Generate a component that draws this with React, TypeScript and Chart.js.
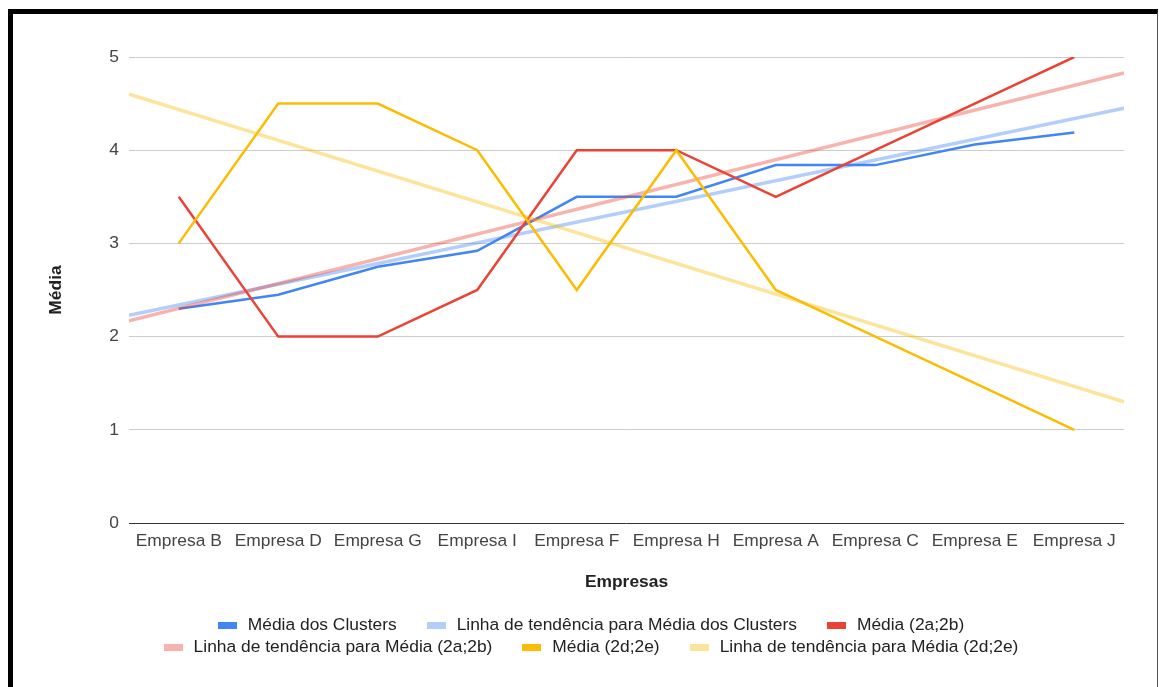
import React, { useEffect, useRef } from "react";
import { Chart, registerables } from "chart.js";

Chart.register(...registerables);

const FONT = "'Liberation Sans', Arial, sans-serif";
const FS = 17.4;

const categories = [
  "Empresa B", "Empresa D", "Empresa G", "Empresa I", "Empresa F",
  "Empresa H", "Empresa A", "Empresa C", "Empresa E", "Empresa J",
];
const mediaClusters = [2.3, 2.45, 2.75, 2.92, 3.5, 3.5, 3.84, 3.84, 4.06, 4.19];
const media2a2b = [3.5, 2, 2, 2.5, 4, 4, 3.5, 4, 4.5, 5];
const media2d2e = [3, 4.5, 4.5, 4, 2.5, 4, 2.5, 2, 1.5, 1];
// trend line values read at the left and right edges of the plot
const trendEdges = [-0.5, 9.5];
const trendClusters = [2.23, 4.45];
const trend2a2b = [2.17, 4.83];
const trend2d2e = [4.6, 1.3];
const yTicks = [0, 1, 2, 3, 4, 5];

const BLUE = "#4285F4";
const RED = "#EA4335";
const YELLOW = "#FBBC04";
const BLUE_T = "rgba(66,133,244,0.4)";
const RED_T = "rgba(234,67,53,0.4)";
const YELLOW_T = "rgba(251,188,4,0.4)";

const W = 1144;
const H = 673;

const legendPlugin = {
  id: "rowLegend",
  afterDraw(chart: any) {
    const ctx = chart.ctx;
    ctx.save();
    ctx.font = `${FS}px ${FONT}`;
    const BOX_W = 19, BOX_H = 7, GAP = 11, ITEM_GAP = 30, MAX_W = 980;
    const CX = 578, Y0 = 611, ROW_H = 22;
    const items = chart.data.datasets.map((ds: any) => ({
      text: ds.label,
      color: ds.borderColor,
      w: BOX_W + GAP + ctx.measureText(ds.label).width,
    }));
    const rows: any[] = [];
    let cur: any[] = [];
    let curW = 0;
    for (const it of items) {
      const add = (cur.length ? ITEM_GAP : 0) + it.w;
      if (cur.length && curW + add > MAX_W) {
        rows.push({ items: cur, w: curW });
        cur = [it];
        curW = it.w;
      } else {
        cur.push(it);
        curW += add;
      }
    }
    rows.push({ items: cur, w: curW });
    ctx.textBaseline = "middle";
    ctx.textAlign = "left";
    rows.forEach((row, r) => {
      let x = CX - row.w / 2;
      const y = Y0 + r * ROW_H;
      row.items.forEach((it: any) => {
        ctx.fillStyle = it.color;
        ctx.fillRect(Math.round(x), Math.round(y - BOX_H / 2), BOX_W, BOX_H);
        ctx.fillStyle = "#222";
        ctx.fillText(it.text, x + BOX_W + GAP, y);
        x += it.w + ITEM_GAP;
      });
    });
    ctx.restore();
  },
};

export default function App() {
  const ref = useRef<HTMLCanvasElement>(null);

  useEffect(() => {
    if (!ref.current) return;
    const pts = (arr: number[]) => arr.map((v, i) => ({ x: i, y: v }));
    const trend = (arr: number[]) => arr.map((v, i) => ({ x: trendEdges[i], y: v }));
    const main = { borderWidth: 2.5, pointRadius: 0, fill: false, tension: 0 };
    const tr = { borderWidth: 3.5, pointRadius: 0, fill: false, tension: 0 };

    const chart = new Chart(ref.current, {
      type: "line",
      data: {
        datasets: [
          { label: "Média dos Clusters", data: pts(mediaClusters), borderColor: BLUE, backgroundColor: BLUE, order: 6, ...main },
          { label: "Linha de tendência para Média dos Clusters", data: trend(trendClusters), borderColor: BLUE_T, backgroundColor: BLUE_T, order: 5, ...tr },
          { label: "Média (2a;2b)", data: pts(media2a2b), borderColor: RED, backgroundColor: RED, order: 4, ...main },
          { label: "Linha de tendência para Média (2a;2b)", data: trend(trend2a2b), borderColor: RED_T, backgroundColor: RED_T, order: 3, ...tr },
          { label: "Média (2d;2e)", data: pts(media2d2e), borderColor: YELLOW, backgroundColor: YELLOW, order: 2, ...main },
          { label: "Linha de tendência para Média (2d;2e)", data: trend(trend2d2e), borderColor: YELLOW_T, backgroundColor: YELLOW_T, order: 1, ...tr },
        ],
      },
      options: {
        responsive: false,
        animation: false,
        devicePixelRatio: 1,
        layout: { padding: { top: 43, right: 33, bottom: 84, left: 0 } },
        plugins: {
          legend: { display: false },
          tooltip: { enabled: false },
        },
        scales: {
          x: {
            type: "linear",
            min: -0.5,
            max: 9.5,
            afterBuildTicks: (s: any) => {
              s.ticks = categories.map((_, i) => ({ value: i }));
            },
            afterFit: (s: any) => {
              s.height = 80;
            },
            grid: { display: false, drawTicks: false },
            border: { display: false },
            ticks: {
              autoSkip: false,
              maxRotation: 0,
              padding: 8,
              color: "#444",
              font: { family: FONT, size: FS },
              callback: (v: any) => categories[v as number] ?? "",
            },
            title: {
              display: true,
              text: "Empresas",
              color: "#222",
              font: { family: FONT, size: FS, weight: "bold" },
              padding: { top: 0, bottom: 10 },
            },
          },
          y: {
            min: 0,
            max: 5,
            afterBuildTicks: (s: any) => {
              s.ticks = yTicks.map((v) => ({ value: v }));
            },
            afterFit: (s: any) => {
              s.width = 116;
            },
            grid: {
              drawTicks: false,
              color: (c: any) => (c.tick && c.tick.value === 0 ? "#333" : "#cccccc"),
              lineWidth: 1,
            },
            border: { display: false },
            ticks: {
              padding: 10,
              color: "#444",
              font: { family: FONT, size: FS },
            },
            title: {
              display: true,
              text: "Média",
              color: "#222",
              font: { family: FONT, size: FS, weight: "bold" },
              padding: { top: 33, bottom: 0 },
            },
          },
        },
      },
      plugins: [legendPlugin],
    } as any);

    return () => chart.destroy();
  }, []);

  return (
    <div
      style={{
        position: "fixed",
        left: 0,
        top: 0,
        width: 1159,
        height: 687,
        overflow: "hidden",
        background: "#fff",
      }}
    >
      <div
        style={{
          position: "absolute",
          left: 8,
          top: 9,
          width: 1144,
          height: 700,
          borderLeft: "5px solid #000",
          borderTop: "5px solid #000",
          borderRight: "1px solid #555",
          background: "#fff",
        }}
      >
        <canvas ref={ref} width={W} height={H} style={{ display: "block", width: W, height: H }} />
      </div>
    </div>
  );
}
